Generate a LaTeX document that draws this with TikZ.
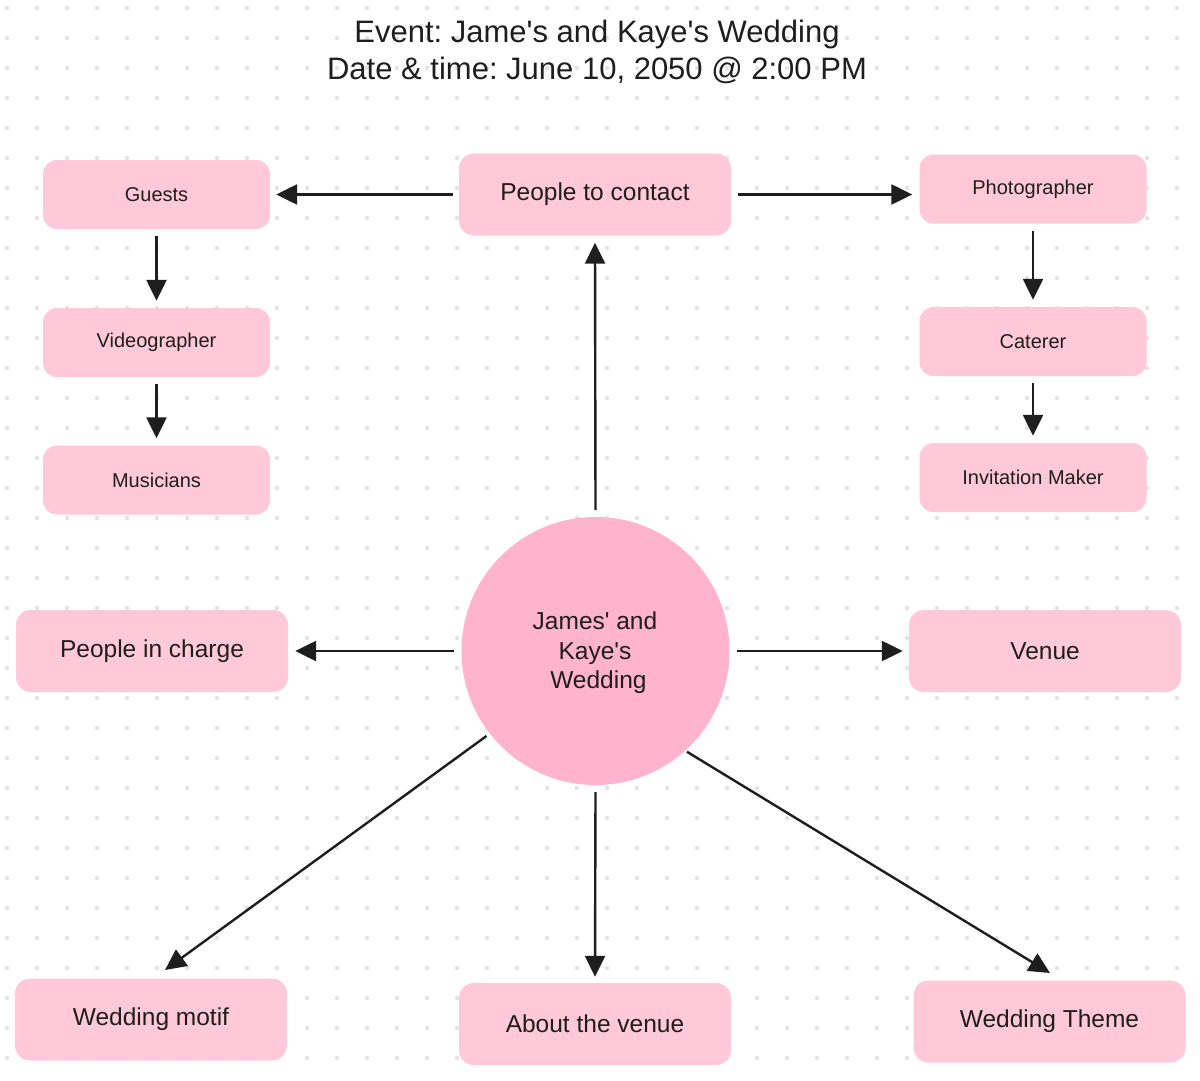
\documentclass[tikz,border=0pt]{standalone}
\usepackage{fontspec}
\setmainfont{Liberation Sans}[Ligatures=TeXOff]
\usetikzlibrary{arrows.meta}
\definecolor{boxpink}{HTML}{FFC9DA}
\definecolor{circpink}{HTML}{FFB3CC}
\definecolor{ink}{HTML}{1E1E1E}
\definecolor{dotgray}{HTML}{E3E3E3}
\frenchspacing
\begin{document}
\begin{tikzpicture}[x=1pt,y=-1pt,
  smallbox/.style={fill=boxpink, rounded corners=14pt, minimum width=227pt, minimum height=69pt, font=\fontsize{20}{24}\selectfont, text=ink, inner sep=0pt},
  bigbox/.style={fill=boxpink, rounded corners=15pt, minimum width=272pt, minimum height=82pt, font=\fontsize{24.5}{29}\selectfont, text=ink, inner sep=0pt},
  hub/.style={circle, fill=circpink, minimum size=268pt, inner sep=0pt, align=center, font=\fontsize{24.5}{29.5}\selectfont, text=ink},
  arr/.style={draw=ink, line width=2.4pt, -{Triangle[length=21pt,width=20pt]}},
  titletext/.style={align=center, font=\fontsize{31}{37}\selectfont, text=ink, inner sep=0pt}
]
\fill[white] (0,0) rectangle (1200,1081);
\useasboundingbox (0,0) rectangle (1200,1081);
\foreach \i in {0,...,39} {
  \foreach \j in {0,...,35} {
    \fill[dotgray] (7+30*\i, 8+30*\j) circle (2.2pt);
  }
}
\node[titletext] (title) at (597,52) {Event: Jame's and Kaye's Wedding\\Date \& time: June 10, 2050 @ 2:00 PM};

\node[hub] (hub) at (595.5,651) {};
\node[align=center, font=\fontsize{24.5}{29.5}\selectfont, text=ink, inner sep=0pt] (hubtext) at (595,653) {James' and\\Kaye's\\ \ Wedding};

\node[bigbox] (contact) at (595,194.5) {People to contact};
\node[smallbox] (guests) at (156.5,194.5) {Guests};
\node[smallbox] (video) at (156.5,342.5) {Videographer};
\node[smallbox] (music) at (156.5,480) {Musicians};
\node[smallbox] (photo) at (1033,189) {Photographer};
\node[smallbox] (cater) at (1033,341.5) {Caterer};
\node[smallbox] (invite) at (1033,477.5) {Invitation Maker};

\node[bigbox] (charge) at (152,651) {People in charge};
\node[bigbox] (venue) at (1045,651) {Venue};
\node[bigbox] (motif) at (151,1019.5) {Wedding motif};
\node[bigbox] (about) at (595,1024) {About the venue};
\node[bigbox] (theme) at (1049.5,1021.5) {Wedding Theme};

\coordinate (m2) at (165,970);
\coordinate (t2) at (1050,973);

\draw[arr] ([xshift=-6pt]contact.west) -- ([xshift=6pt]guests.east |- contact.west);
\draw[arr] ([xshift=7pt]contact.east) -- ([xshift=-7pt]photo.west |- contact.east);
\draw[arr] ([yshift=7pt]hub.north) -- ([yshift=-7pt]contact.south);
\draw[arr] ([yshift=-7pt]guests.south) -- ([yshift=7pt]video.north);
\draw[arr] ([yshift=-7pt]video.south) -- ([yshift=7pt]music.north);
\draw[arr] ([yshift=-7pt]photo.south) -- ([yshift=7pt]cater.north);
\draw[arr] ([yshift=-7pt]cater.south) -- ([yshift=7pt]invite.north);
\draw[arr] ([xshift=-7pt]hub.west) -- ([xshift=7pt]charge.east);
\draw[arr] ([xshift=7pt]hub.east) -- ([xshift=-6pt]venue.west);
\draw[arr] ([yshift=-7pt]hub.south) -- ([yshift=6pt]about.north);
\draw[arr, shorten <=4pt] (hub.218) -- (m2);
\draw[arr, shorten <=2pt] (hub.312) -- (t2);
\end{tikzpicture}
\end{document}
